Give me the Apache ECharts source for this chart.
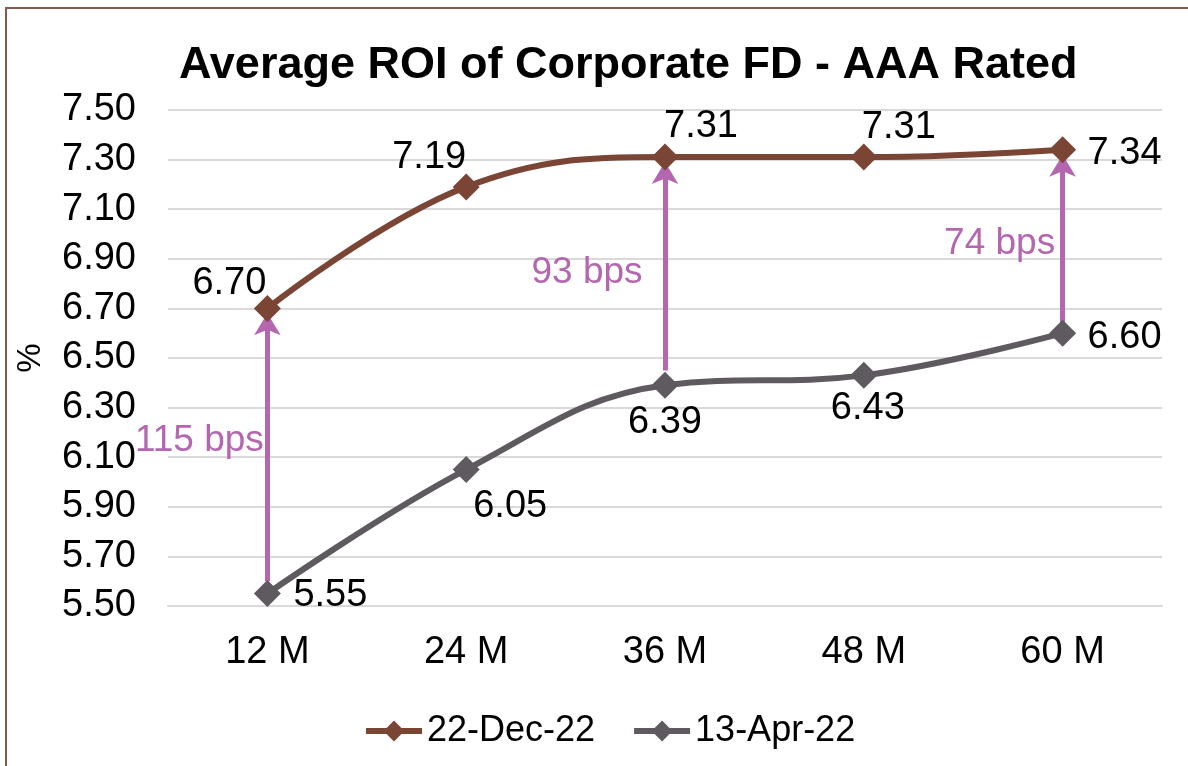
<!DOCTYPE html>
<html>
<head>
<meta charset="utf-8">
<script src="https://cdn.jsdelivr.net/npm/echarts@6/dist/echarts.min.js"></script>
<style>
  html, body { margin: 0; padding: 0; background: #fff; }
  #chart { width: 1188px; height: 766px; }
</style>
</head>
<body>
<div id="chart"></div>
<script>
// data
const categories = ['12 M', '24 M', '36 M', '48 M', '60 M'];
const dec22 = [6.70, 7.19, 7.31, 7.31, 7.34];
const apr22 = [5.55, 6.05, 6.39, 6.43, 6.60];
const seriesNames = ['22-Dec-22', '13-Apr-22'];
const spreadIdx = [0, 2, 4];
const spreadLabels = ['115 bps', '93 bps', '74 bps'];

// label placement (px offsets from each marker)
const decOffsets = [[-38, -25], [-37, -29], [36, -31], [35, -30], [62, 4]];
const aprOffsets = [[63, 2], [44, 37], [0, 37], [4, 33], [62, 4]];
const spreadTextOffsets = [[-68, -10], [-78, 2], [-63, 2]];
const arrowStartGap = [0.05, 0.06, 0.02];
const arrowEndGap = 0.02;

const FONT = "'Liberation Sans', Arial, sans-serif";
const DEC_COLOR = '#7B4535';
const APR_COLOR = '#5F5A60';
const SPREAD_COLOR = '#B466AE';

const chart = echarts.init(document.getElementById('chart'));

const withLabels = (vals, offs) => vals.map((v, i) => ({
  value: v,
  label: { offset: offs[i] }
}));

const lineSeries = (name, vals, offs, color) => ({
  name: name,
  type: 'line',
  smooth: 0.4,
  symbol: 'diamond',
  symbolSize: 27,
  z: 5,
  lineStyle: { width: 6, color: color },
  itemStyle: { color: color },
  label: {
    show: true,
    position: 'inside',
    color: '#000',
    fontSize: 38,
    fontFamily: FONT,
    formatter: p => p.value.toFixed(2)
  },
  data: withLabels(vals, offs)
});

const aprSeries = lineSeries(seriesNames[1], apr22, aprOffsets, APR_COLOR);
aprSeries.markLine = {
  silent: true,
  symbol: ['none', 'arrow'],
  symbolSize: [20, 22],
  label: { show: false },
  lineStyle: { type: 'solid', width: 5, color: SPREAD_COLOR },
  data: spreadIdx.map((k, j) => [
    { coord: [categories[k], apr22[k] + arrowStartGap[j]] },
    { coord: [categories[k], dec22[k] - arrowEndGap] }
  ])
};
aprSeries.markPoint = {
  silent: true,
  symbol: 'circle',
  symbolSize: 0,
  label: {
    show: true,
    position: 'inside',
    color: SPREAD_COLOR,
    fontSize: 37,
    fontFamily: FONT,
    formatter: p => p.name
  },
  data: spreadIdx.map((k, j) => ({
    name: spreadLabels[j],
    coord: [categories[k], (apr22[k] + dec22[k]) / 2],
    label: { offset: spreadTextOffsets[j] }
  }))
};

const option = {
  animation: false,
  textStyle: { fontFamily: FONT },
  title: {
    text: 'Average ROI of Corporate FD - AAA Rated',
    left: 174,
    top: 38,
    textStyle: { fontSize: 45, fontWeight: 'bold', color: '#000', fontFamily: FONT }
  },
  legend: {
    left: 358,
    top: 708,
    itemWidth: 56,
    itemHeight: 26,
    itemGap: 36,
    data: seriesNames,
    lineStyle: { width: 6 },
    textStyle: { fontSize: 36, color: '#000', fontFamily: FONT }
  },
  grid: { left: 168, right: 26, top: 110, bottom: 160 },
  xAxis: {
    type: 'category',
    data: categories,
    axisLine: { lineStyle: { color: '#D9D9D9', width: 2 } },
    axisTick: { show: false },
    axisLabel: { fontSize: 38, color: '#000', margin: 28, fontFamily: FONT }
  },
  yAxis: {
    type: 'value',
    name: '%',
    nameLocation: 'middle',
    nameGap: 121,
    nameRotate: 90,
    nameTextStyle: { fontSize: 33, color: '#000', fontFamily: FONT },
    min: 5.5,
    max: 7.5,
    interval: 0.2,
    axisLine: { show: false },
    axisTick: { show: false },
    splitLine: { lineStyle: { color: '#D9D9D9', width: 2 } },
    axisLabel: {
      fontSize: 38, color: '#000', margin: 32, fontFamily: FONT,
      formatter: v => v.toFixed(2)
    }
  },
  graphic: [{
    type: 'rect',
    silent: true,
    shape: { x: 6, y: 8, width: 1220, height: 820 },
    style: { fill: 'none', stroke: '#86584A', lineWidth: 2 }
  }],
  series: [
    lineSeries(seriesNames[0], dec22, decOffsets, DEC_COLOR),
    aprSeries
  ]
};

chart.setOption(option);
window.addEventListener('resize', () => chart.resize());
</script>
</body>
</html>
